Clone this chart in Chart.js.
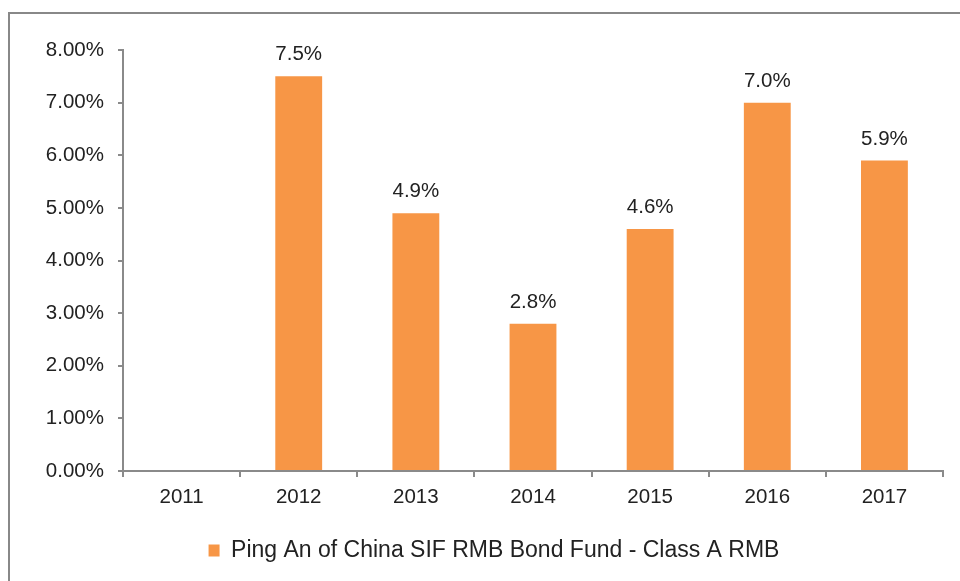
<!DOCTYPE html>
<html>
<head>
<meta charset="utf-8">
<script src="https://cdn.jsdelivr.net/npm/chart.js@4/dist/chart.umd.min.js"></script>
<style>
  html, body { margin: 0; padding: 0; background: #ffffff; }
  #wrap { width: 960px; height: 581px; position: relative; }
</style>
</head>
<body>
<div id="wrap"><canvas id="c" width="960" height="581"></canvas></div>
<script>
const categories = ['2011', '2012', '2013', '2014', '2015', '2016', '2017'];
const seriesName = 'Ping An of China SIF RMB Bond Fund - Class A RMB';
const seriesValues = [null, 7.5, 4.9, 2.8, 4.6, 7.0, 5.9];
const yTicks = [0, 1, 2, 3, 4, 5, 6, 7, 8];

const FONT = "'Liberation Sans', Arial, sans-serif";
const BAR = '#F79646';
const AXIS = '#8a8a8a';
const TEXT = '#222222';

const frame = {
  id: 'frame',
  beforeDraw(chart) {
    const ctx = chart.ctx;
    ctx.save();
    ctx.fillStyle = '#ffffff';
    ctx.fillRect(0, 0, chart.width, chart.height);
    ctx.strokeStyle = '#888888';
    ctx.lineWidth = 2;
    ctx.strokeRect(9, 13, chart.width + 20, chart.height + 20);
    ctx.restore();
  }
};

const valueLabels = {
  id: 'valueLabels',
  afterDatasetsDraw(chart) {
    const ctx = chart.ctx;
    ctx.save();
    ctx.font = '20.5px ' + FONT;
    ctx.fillStyle = TEXT;
    ctx.textAlign = 'center';
    ctx.textBaseline = 'alphabetic';
    chart.getDatasetMeta(0).data.forEach((bar, i) => {
      const v = seriesValues[i];
      if (v === null || v === undefined) return;
      ctx.fillText(v.toFixed(1) + '%', bar.x, bar.y - 16);
    });
    ctx.restore();
  }
};

new Chart(document.getElementById('c'), {
  type: 'bar',
  data: {
    labels: categories,
    datasets: [{
      label: seriesName,
      data: seriesValues,
      backgroundColor: BAR,
      borderWidth: 0,
      categoryPercentage: 1.0,
      barPercentage: 0.4
    }]
  },
  options: {
    responsive: false,
    animation: false,
    devicePixelRatio: 1,
    layout: { padding: { left: 45, right: 17, top: 50, bottom: 9 } },
    plugins: {
      legend: {
        position: 'bottom',
        labels: {
          boxWidth: 11,
          boxHeight: 12,
          padding: 10,
          color: TEXT,
          font: { family: FONT, size: 23 }
        }
      },
      tooltip: { enabled: false },
      title: { display: false }
    },
    scales: {
      x: {
        grid: {
          display: true,
          drawOnChartArea: false,
          drawTicks: true,
          tickLength: 6,
          color: AXIS,
          lineWidth: 2,
          offset: true
        },
        border: { display: true, color: AXIS, width: 2 },
        ticks: {
          color: TEXT,
          padding: 8,
          font: { family: FONT, size: 20.5 }
        },
        afterFit(scale) { scale.height = 58; }
      },
      y: {
        min: 0,
        max: 8,
        afterBuildTicks(scale) { scale.ticks = yTicks.map(v => ({ value: v })); },
        grid: {
          display: true,
          drawOnChartArea: false,
          drawTicks: true,
          tickLength: 5,
          color: AXIS,
          lineWidth: 2
        },
        border: { display: true, color: AXIS, width: 2 },
        ticks: {
          color: TEXT,
          padding: 14,
          font: { family: FONT, size: 20.5 },
          callback: (v) => Number(v).toFixed(2) + '%'
        },
        afterFit(scale) { scale.width = 78; }
      }
    }
  },
  plugins: [frame, valueLabels]
});
</script>
</body>
</html>
